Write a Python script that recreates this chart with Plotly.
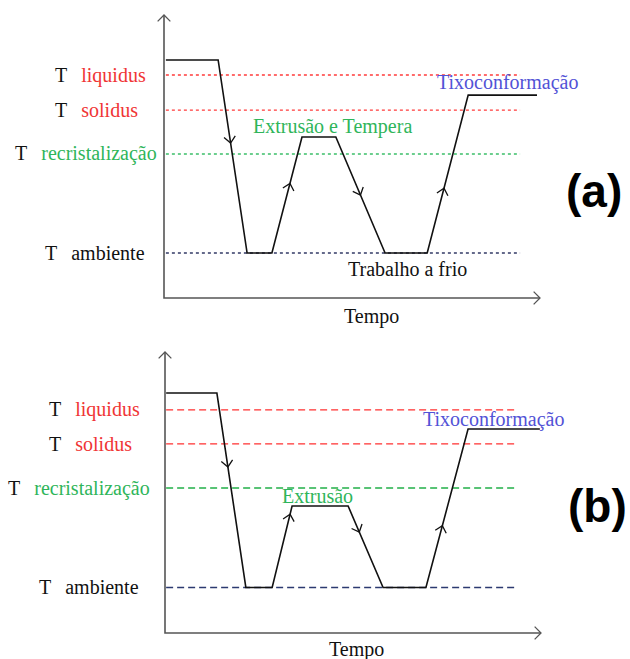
import math
import plotly.graph_objects as go

W, H = 630, 659

# ---------------- data (time, temperature in arbitrary units) ----------------
level_names = ["liquidus", "solidus", "recristalização", "ambiente"]

# panel (a)
time_a = [0.05, 1.44, 2.21, 2.87, 3.67, 4.57, 5.88, 7.00, 8.09, 9.92]
temp_a = [84.1, 84.1, 15.9, 15.9, 56.9, 56.9, 15.9, 15.9, 71.7, 71.7]
levels_a = [78.8, 66.4, 50.9, 15.9]
arrow_seg_a = [1, 3, 5, 7]
arrow_frac_a = [0.43, 0.60, 0.50, 0.41]

# panel (b)
time_b = [0.03, 1.38, 2.15, 2.85, 3.38, 4.87, 5.80, 6.94, 8.06, 9.97]
temp_b = [85.4, 85.4, 16.2, 16.2, 45.2, 45.2, 16.2, 16.2, 72.6, 72.6]
levels_b = [79.4, 67.3, 51.6, 16.2]
arrow_seg_b = [1, 3, 5, 7]
arrow_frac_b = [0.38, 0.90, 0.32, 0.39]

# ---------------- style / layout constants ----------------
RED = "#f03535"
GREEN = "#2fb55a"
BLUE = "#5252d6"
NAVY = "#333a66"
AXIS = "#555555"
SERIF = "Liberation Serif, Times New Roman, serif"
SANS = "Liberation Sans, Arial, sans-serif"
level_text_colors = [RED, RED, GREEN, "#111111"]
level_line_colors_a = ["#ff3b3b", "#ff3b3b", "#3cbf6a", NAVY]
level_line_colors_b = ["#ff3030", "#ff3030", "#22b048", "#2c3a70"]

# pixel geometry of each panel: axis origin / tips and y-domain
PA = dict(x0=164, x1=540, y0=298, y1=15, dom=[0.5, 1.0], line_end=9.47)
PB = dict(x0=165, x1=541, y0=633, y1=352, dom=[0.0, 0.5], line_end=9.39)
for P in (PA, PB):
    P["sx"] = (P["x1"] - P["x0"]) / 10.0
    P["sy"] = (P["y0"] - P["y1"]) / 100.0
    top_px = H * (1 - P["dom"][1])
    bot_px = H * (1 - P["dom"][0])
    P["xr"] = [-P["x0"] / P["sx"], (W - P["x0"]) / P["sx"]]
    P["yr"] = [(P["y0"] - bot_px) / P["sy"], (P["y0"] - top_px) / P["sy"]]


def chevrons(tips, dirs, P, length=8.5, ang=42):
    xs, ys = [], []
    for (tx, ty), (dx, dy) in zip(tips, dirs):
        px, py = dx * P["sx"], -dy * P["sy"]
        n = math.hypot(px, py)
        bx, by = -px / n, -py / n
        pts = []
        for s in (1, -1):
            a = math.radians(ang * s)
            rx = bx * math.cos(a) - by * math.sin(a)
            ry = bx * math.sin(a) + by * math.cos(a)
            pts.append((tx + rx * length / P["sx"], ty - ry * length / P["sy"]))
        xs += [pts[0][0], tx, pts[1][0], None]
        ys += [pts[0][1], ty, pts[1][1], None]
    return xs, ys


fig = go.Figure()


def add_panel(P, t, T, levels, segs, fracs, line_cols, dash, xa, ya):
    # reference level lines
    for lv, col in zip(levels, line_cols):
        fig.add_trace(go.Scatter(x=[t[0], P["line_end"]], y=[lv, lv], mode="lines",
                                 line=dict(color=col, width=1.4, dash=dash),
                                 xaxis=xa, yaxis=ya, hoverinfo="skip"))
    # axes
    fig.add_trace(go.Scatter(x=[0, 0, 10], y=[100, 0, 0], mode="lines",
                             line=dict(color=AXIS, width=1.6),
                             xaxis=xa, yaxis=ya, hoverinfo="skip"))
    ax_x, ax_y = chevrons([(0, 100), (10, 0)], [(0, 1), (1, 0)], P, length=9, ang=45)
    fig.add_trace(go.Scatter(x=ax_x, y=ax_y, mode="lines",
                             line=dict(color=AXIS, width=1.3),
                             xaxis=xa, yaxis=ya, hoverinfo="skip"))
    # process curve
    fig.add_trace(go.Scatter(x=t, y=T, mode="lines",
                             line=dict(color="#111111", width=1.6),
                             xaxis=xa, yaxis=ya, hoverinfo="skip"))
    tips, dirs = [], []
    for s, f in zip(segs, fracs):
        dx, dy = t[s + 1] - t[s], T[s + 1] - T[s]
        tips.append((t[s] + f * dx, T[s] + f * dy))
        dirs.append((dx, dy))
    cx, cy = chevrons(tips, dirs, P)
    fig.add_trace(go.Scatter(x=cx, y=cy, mode="lines",
                             line=dict(color="#111111", width=1.3),
                             xaxis=xa, yaxis=ya, hoverinfo="skip"))


add_panel(PA, time_a, temp_a, levels_a, arrow_seg_a, arrow_frac_a,
          level_line_colors_a, "dot", "x", "y")
add_panel(PB, time_b, temp_b, levels_b, arrow_seg_b, arrow_frac_b,
          level_line_colors_b, "7px,4px", "x2", "y2")

annotations = []


def txt(text, px, py, color="#111111", size=20, family=SERIF, xanchor="center"):
    annotations.append(dict(text=text, x=px / W, y=1 - py / H, xref="paper", yref="paper",
                            xanchor=xanchor, yanchor="middle", showarrow=False,
                            font=dict(family=family, size=size, color=color)))


NB = "\u00a0\u00a0\u2009"
label_x_a = [53, 53, 13, 43]
label_x_b = [47, 47, 6, 37]
for P, levels, lx, yref in ((PA, levels_a, label_x_a, "y"), (PB, levels_b, label_x_b, "y2")):
    for name, lv, x0, col in zip(level_names, levels, lx, level_text_colors):
        annotations.append(dict(
            text=f'T{NB}<span style="color:{col}">{name}</span>',
            x=x0 / W, y=lv, xref="paper", yref=yref, xanchor="left", yanchor="middle",
            showarrow=False, font=dict(family=SERIF, size=20, color="#111111")))

# panel (a) texts
txt("Extrusão e Tempera", 332, 126, GREEN)
txt("Tixoconformação", 507, 83, BLUE)
txt("Trabalho a frio", 407, 269)
txt("Tempo", 371, 316)
txt("<b>(a)</b>", 594, 191, "#000000", 46, SANS)
# panel (b) texts
txt("Extrusão", 317, 496, GREEN)
txt("Tixoconformação", 493, 419, BLUE)
txt("Tempo", 356, 649)
txt("<b>(b)</b>", 597, 506, "#000000", 46, SANS)

axis_common = dict(visible=False, fixedrange=True)
fig.update_layout(
    width=W, height=H, margin=dict(l=0, r=0, t=0, b=0),
    paper_bgcolor="white", plot_bgcolor="white", showlegend=False,
    xaxis=dict(domain=[0, 1], range=PA["xr"], anchor="y", **axis_common),
    yaxis=dict(domain=PA["dom"], range=PA["yr"], anchor="x", **axis_common),
    xaxis2=dict(domain=[0, 1], range=PB["xr"], anchor="y2", **axis_common),
    yaxis2=dict(domain=PB["dom"], range=PB["yr"], anchor="x2", **axis_common),
    annotations=annotations,
)

fig.write_html("out.html")
